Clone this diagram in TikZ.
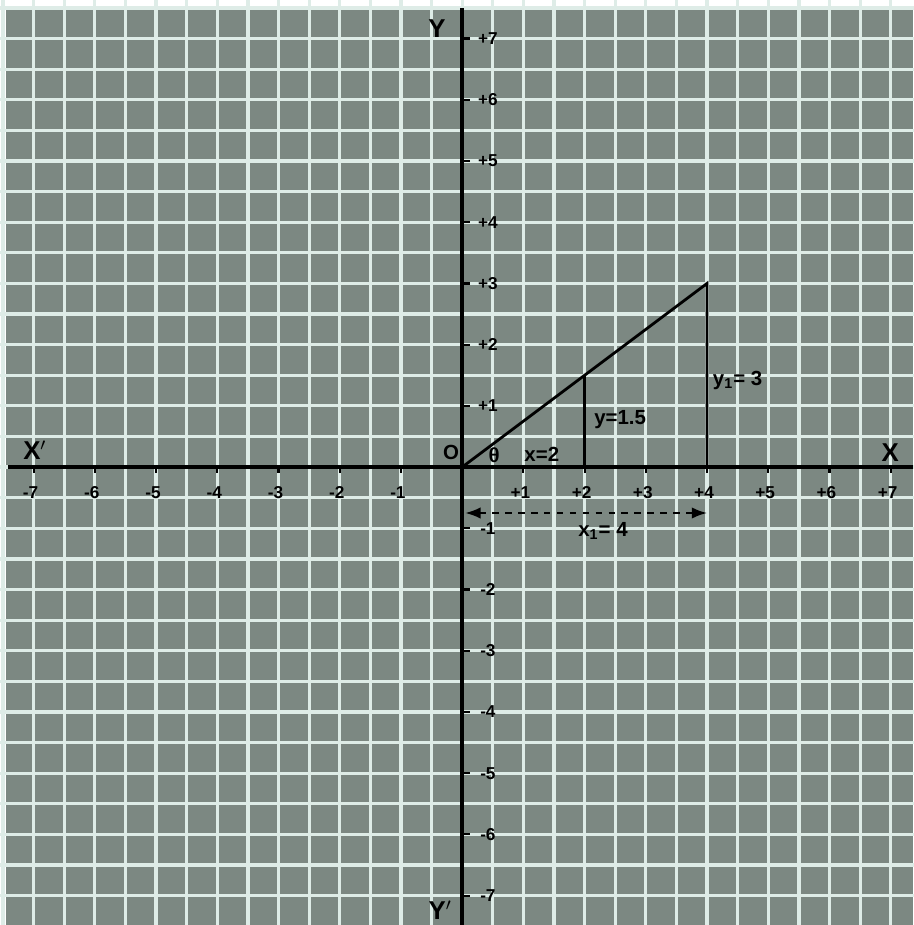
\documentclass[tikz,border=0pt]{standalone}
\usepackage{fontspec}
\setmainfont{Liberation Sans}
\usetikzlibrary{arrows.meta}
\definecolor{cellgray}{RGB}{124,136,130}
\definecolor{gridwhite}{RGB}{222,236,231}
\begin{document}
\begin{tikzpicture}[
  ticklab/.style={font=\bfseries\fontsize{8}{9}\selectfont, text=black, inner sep=0pt},
  axislab/.style={font=\bfseries\fontsize{12}{13}\selectfont, inner sep=0pt},
  eqlab/.style={font=\bfseries\fontsize{9.5}{10}\selectfont, inner sep=0pt},
  axisline/.style={line width=2pt, black},
  tickline/.style={line width=1pt, black},
  tri/.style={line width=1.3pt, black},
  gridline/.style={gridwhite, line width=1.5pt},
]
\useasboundingbox (-7.55,-7.48) rectangle (7.37,7.63);
\fill[white] (-7.55,-7.48) rectangle (7.37,7.63);
\fill[cellgray] (-7.45,-7.48) rectangle (7.37,7.53);
\foreach \k in {-15,...,15}{
  \draw[gridline] (\k*0.5,-7.6) -- (\k*0.5,7.7);
  \draw[gridline] (-7.6,\k*0.5) -- (7.5,\k*0.5);
}
% axes
\coordinate (xl) at (-7.42,0);
\coordinate (xr) at (7.37,0);
\coordinate (yt) at (0,7.5);
\coordinate (yb) at (0,-7.48);
\draw[axisline] (xl) -- (xr);
\draw[axisline] (yt) -- (yb);
% ticks and labels
\foreach \i in {1,...,7}{
  \draw[tickline] (\i,0) -- (\i,-0.1);
  \draw[tickline] (-\i,0) -- (-\i,-0.1);
  \draw[tickline] (0,\i) -- (0.12,\i);
  \draw[tickline] (0,-\i) -- (0.12,-\i);
  \node[ticklab] (xp\i) at (\i-0.05,-0.42) {+\i};
  \node[ticklab] (xn\i) at (-\i-0.05,-0.42) {-\i};
  \node[ticklab] (yp\i) at (0.42,\i) {+\i};
  \node[ticklab] (yn\i) at (0.42,-\i) {-\i};
}
% axis names
\node[axislab] (Xr) at (6.99,0.23) {X};
\node[axislab] (Xl) at (-6.98,0.28) {X$'$};
\node[axislab] (Yt) at (-0.41,7.17) {Y};
\node[axislab] (Yb) at (-0.36,-7.24) {Y$'$};
% triangle
\coordinate (O) at (0,0);
\coordinate (A) at (4,3);
\coordinate (B) at (4,0);
\coordinate (C) at (2,1.5);
\coordinate (D) at (2,0);
\draw[tri] (O) -- (A) -- (B);
\draw[tri] (C) -- (D);
% labels
\node[eqlab] (olab) at (-0.18,0.24) {O};
\node[eqlab] (theta) at (0.52,0.2) {θ};
\node[eqlab] (xlab) at (1.3,0.2) {x=2};
\node[eqlab] (ylab) at (2.58,0.77) {y=1.5};
\node[eqlab] (y1lab) at (4.5,1.42) {y\textsubscript{1}= 3};
% dashed arrow
\coordinate (L) at (0.05,-0.75);
\coordinate (R) at (4,-0.75);
\draw[dashed, line width=1pt, {Latex[length=2.5mm]}-{Latex[length=2.5mm]}] (L) -- (R);
\node[eqlab] (x1lab) at (2.3,-1.05) {x\textsubscript{1}= 4};
\end{tikzpicture}
\end{document}
